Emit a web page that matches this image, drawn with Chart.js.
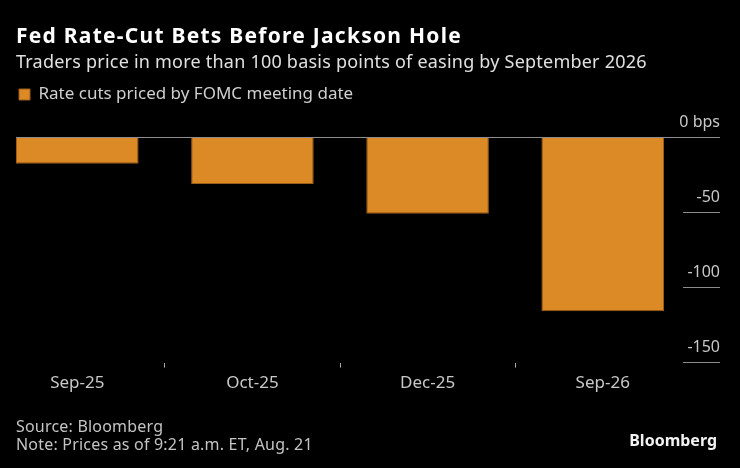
<!DOCTYPE html>
<html>
<head>
<meta charset="utf-8">
<script src="https://cdn.jsdelivr.net/npm/chart.js@4"></script>
<style>
  html, body { margin: 0; padding: 0; background: #000; }
  body { width: 740px; height: 468px; position: relative; overflow: hidden; font-family: "Noto Sans", sans-serif; }
  #wrap { position: absolute; left: 0; top: 0; width: 740px; height: 468px; }
  .txt { position: absolute; white-space: nowrap; }
  #title { left: 16px; top: 22px; font-size: 21px; line-height: 26px; font-weight: bold; color: #fff; letter-spacing: 1.25px; }
  #subtitle { left: 16px; top: 50px; font-size: 18px; line-height: 22px; color: #e0e0e0; letter-spacing: 0.22px; }
  #foot { left: 16px; top: 417px; font-size: 16px; line-height: 18px; color: #c4c4c4; letter-spacing: 0.2px; }
  #logo { right: 23px; top: 431px; font-size: 16px; line-height: 18px; font-weight: bold; color: #f2f2f2; }
</style>
</head>
<body>
<div id="wrap"><canvas id="rates" width="740" height="468"></canvas></div>
<div class="txt" id="title">Fed Rate-Cut Bets Before Jackson Hole</div>
<div class="txt" id="subtitle">Traders price in more than 100 basis points of easing by September 2026</div>
<div class="txt" id="foot">Source: Bloomberg<br>Note: Prices as of 9:21 a.m. ET, Aug. 21</div>
<div class="txt" id="logo">Bloomberg</div>
<script>
const meetings = ['Sep-25', 'Oct-25', 'Dec-25', 'Sep-26'];
const cutsPriced = [-17.5, -31, -50.7, -115.7];
const yTicks = [0, -50, -100, -150];

function yLabel(v) {
    return v === 0 ? '0 bps' : String(v);
}

// widest y label, so the labels can sit right-aligned over their underline
const m = document.createElement('canvas').getContext('2d');
m.font = '16px "Noto Sans"';
const widest = Math.max(...yTicks.map(v => m.measureText(yLabel(v)).width));

const tickGray = '#8c8c8c';

const config = {
    type: 'bar',
    data: {
        datasets: [
            {
                label: 'Rate cuts priced by FOMC meeting date',
                data: cutsPriced.map((v, i) => ({ x: i, y: v })),
                backgroundColor: '#dc8a26',
                borderColor: '#9c5c1a',
                borderWidth: 1,
                categoryPercentage: 1,
                barPercentage: 0.7
            }
        ]
    },
    options: {
        responsive: false,
        animation: false,
        layout: { padding: { left: 16, right: 20, top: 83, bottom: 70 } },
        plugins: {
            legend: {
                align: 'start',
                labels: {
                    color: '#cfcfcf',
                    font: { family: 'Noto Sans', size: 17 },
                    boxWidth: 11,
                    boxHeight: 11,
                    padding: 3
                }
            },
            tooltip: { enabled: false }
        },
        scales: {
            x: {
                type: 'linear',
                min: -0.35,
                max: 3.35,
                offset: false,
                afterBuildTicks: s => { s.ticks = meetings.map((c, i) => ({ value: i })); },
                grid: { drawOnChartArea: false, drawTicks: true, tickLength: 5, tickColor: '#aaaaaa' },
                border: { display: false },
                ticks: {
                    color: '#c8c8c8',
                    font: { family: 'Noto Sans', size: 17 },
                    padding: 5,
                    callback: (v) => meetings[v]
                }
            },
            y: {
                position: 'right',
                min: -150,
                max: 16.4,
                afterBuildTicks: s => { s.ticks = yTicks.map(v => ({ value: v })); },
                afterFit: s => { s.width = 56; },
                grid: {
                    color: c => c.tick && c.tick.value === 0 ? tickGray : 'transparent',
                    tickColor: tickGray,
                    tickLength: 56,
                    tickBorderDash: c => c.tick && c.tick.value === 0 ? [] : [0, 19, 37, 0]
                },
                border: { display: false },
                ticks: {
                    color: '#c8c8c8',
                    font: { family: 'Noto Sans', size: 16 },
                    crossAlign: 'far',
                    padding: -widest,
                    labelOffset: -15,
                    callback: yLabel
                }
            }
        }
    }
};

const rateChart = new Chart(document.getElementById('rates'), config);
</script>
</body>
</html>
